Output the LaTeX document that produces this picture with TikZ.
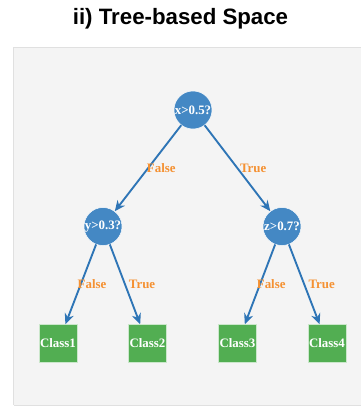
\documentclass[tikz,border=0pt]{standalone}
\usepackage{fontspec}
\setmainfont{Liberation Serif}
\setsansfont{Liberation Sans}
\usepackage{xcolor}
\usepackage{tikz}
\usetikzlibrary{shapes,arrows.meta,positioning,calc}
\definecolor{nodeblue}{RGB}{68,136,196}
\definecolor{edgeblue}{RGB}{46,117,182}
\definecolor{leafgreen}{RGB}{82,174,82}
\definecolor{lblorange}{RGB}{245,145,50}
\definecolor{panelgray}{RGB}{244,244,244}
\definecolor{panelline}{RGB}{224,224,224}

\begin{document}
\begin{tikzpicture}[every node/.style={font=\fontsize{11}{13}\selectfont\bfseries},
  test/.style={circle, draw=white, fill=nodeblue, minimum size=1.14cm, inner sep=0pt, text=white},
  leaf/.style={rectangle, draw=white!70!leafgreen, fill=leafgreen, minimum size=1.14cm, inner sep=0pt, text=white},
  branch/.style={-{Stealth[length=3.2mm, width=2.8mm]}, line width=1.6pt, color=edgeblue},
  cond/.style={anchor=west, inner sep=0pt, text=lblorange}]
\useasboundingbox (0,0) rectangle (10.83,-12.18);
% panel
\fill[panelgray] (0.405,-1.425) rectangle (10.83,-12.15);
\draw[panelline, line width=1.5pt] (10.83,-1.425) -- (0.405,-1.425) -- (0.405,-12.15);
\draw[panelline, line width=0.6pt] (0.405,-12.15) -- (10.83,-12.15);
\node[font=\sffamily\bfseries\fontsize{19}{22}\selectfont] (title) at (5.415,-0.57) {ii) Tree-based Space};
% tests
\node[test] (root) at (5.79,-3.30) {x>0.5?};
\node[test] (ty) at (3.09,-6.795) {y>0.3?};
\node[test] (tz) at (8.46,-6.795) {z>0.7?};
% leaves
\node[leaf] (c1) at (1.74,-10.305) {Class1};
\node[leaf] (c2) at (4.425,-10.305) {Class2};
\node[leaf] (c3) at (7.125,-10.305) {Class3};
\node[leaf] (c4) at (9.81,-10.305) {Class4};
% branches
\draw[branch] (root) -- node[cond, xshift=-0.06cm] {False} (ty);
\draw[branch] (root) -- node[cond, xshift=0.05cm] {True} (tz);
\draw[branch] (ty) -- node[cond, xshift=-0.12cm] {False} (c1);
\draw[branch] (ty) -- node[cond, xshift=0.09cm] {True} (c2);
\draw[branch] (tz) -- node[cond, xshift=-0.12cm] {False} (c3);
\draw[branch] (tz) -- node[cond, xshift=0.1cm] {True} (c4);
\end{tikzpicture}
\end{document}
